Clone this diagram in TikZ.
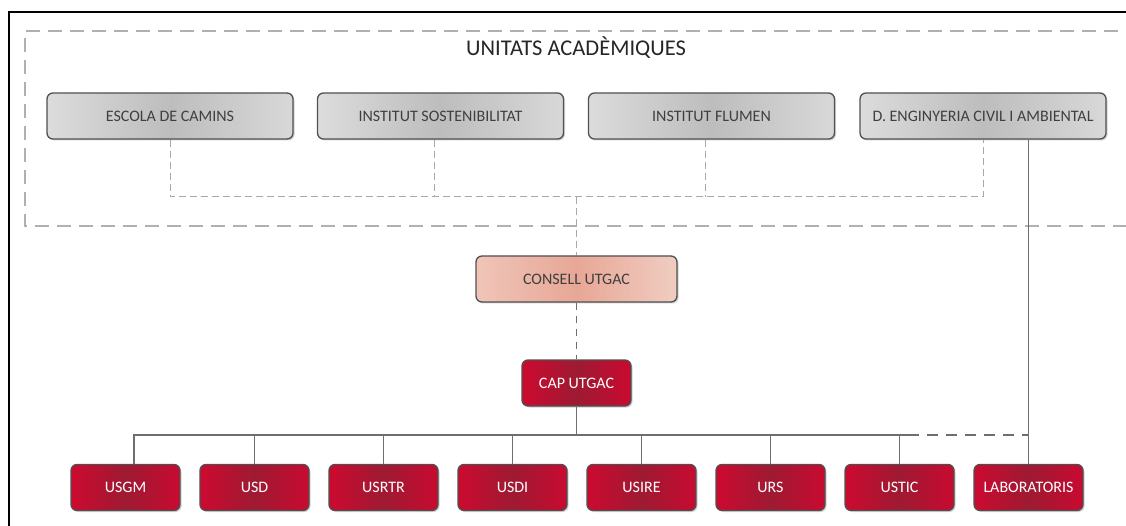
\documentclass[tikz,border=0pt]{standalone}
\usepackage{fontspec}
\setmainfont{Carlito}
\usetikzlibrary{shadows}
\definecolor{gL}{HTML}{DCDCDC}
\definecolor{gM}{HTML}{BDBDBD}
\definecolor{gR}{HTML}{D8D8D8}
\definecolor{rL}{HTML}{CC0A2F}
\definecolor{rM}{HTML}{9E1A33}
\definecolor{rR}{HTML}{C80A30}
\definecolor{cL}{HTML}{EFC5B8}
\definecolor{cM}{HTML}{E8A796}
\definecolor{cR}{HTML}{F0CDC2}
\definecolor{bord}{HTML}{505050}
\definecolor{txt}{HTML}{3F3F3F}
\definecolor{dbox}{HTML}{B0B0B0}
\definecolor{dln}{HTML}{A8A8A8}
\definecolor{sln}{HTML}{6E6E6E}
\begin{document}
\begin{tikzpicture}[x=1pt,y=-1pt,
  box/.style={draw=bord, line width=1.3pt, rounded corners=6pt, minimum height=46pt,
    inner sep=0pt, font=\fontsize{16}{18}\selectfont,
    drop shadow={shadow xshift=1.5pt, shadow yshift=-1.5pt, opacity=0.25, fill=black!70}},
  greybox/.style={box, minimum width=246pt, left color=gL, right color=gR, middle color=gM, text=txt},
  salmonbox/.style={box, minimum width=201pt, left color=cL, right color=cR, middle color=cM, text=txt},
  redbox/.style={box, minimum width=109pt, left color=rL, right color=rR, middle color=rM, text=white},
  dashbox/.style={draw=dbox, line width=1.5pt, dash pattern=on 14pt off 8pt},
  dconn/.style={draw=dln, line width=1pt, dash pattern=on 7pt off 4pt},
  dconntwo/.style={draw=sln, line width=1.2pt, dash pattern=on 7pt off 6pt},
  sconn/.style={draw=sln, line width=1.6pt},
  sdash/.style={draw=sln, line width=1.6pt, dash pattern=on 11pt off 8pt}]
\useasboundingbox (0,0) rectangle (1126,526);
\clip (0,0) rectangle (1126,526);
\fill[white] (0,0) rectangle (1126,526);
% outer frame
\draw[line width=2pt, black] (9,540) -- (9,12) -- (1140,12);
% dashed group frame
\draw[dashbox] (1140,31) -- (25,31) -- (25,226) -- (1140,226);
\node[font=\fontsize{22.5}{26}\selectfont, text=black!85] (title) at (576,48) {UNITATS ACADÈMIQUES};
% academic units
\node[greybox] (esc)  at (170,116)   {ESCOLA DE CAMINS};
\node[greybox] (ist)  at (440.5,116) {INSTITUT SOSTENIBILITAT};
\node[greybox] (ifl)  at (711.5,116) {INSTITUT FLUMEN};
\node[greybox] (deng) at (983,116)   {D. ENGINYERIA CIVIL I AMBIENTAL};
% council and head
\node[salmonbox] (consell) at (576.5,279) {CONSELL UTGAC};
\node[redbox] (cap) at (576.5,383) {CAP UTGAC};
% units
\node[redbox] (usgm)  at (125.5,487.5) {USGM};
\node[redbox] (usd)   at (254.5,487.5) {USD};
\node[redbox] (usrtr) at (383.5,487.5) {USRTR};
\node[redbox] (usdi)  at (512.5,487.5) {USDI};
\node[redbox] (usire) at (641.5,487.5) {USIRE};
\node[redbox] (urs)   at (770.5,487.5) {URS};
\node[redbox] (ustic) at (899.5,487.5) {USTIC};
\node[redbox] (lab)   at (1028.5,487.5) {LABORATORIS};
% dashed connectors of academic units
\coordinate (j) at (576.5,197);
\draw[dconn] (esc.south) -- (esc.south |- j) -- (j -| deng.south) -- (deng.south);
\draw[dconn] ([xshift=-6pt]ist.south) -- ([xshift=-6pt]ist.south |- j);
\draw[dconn] ([xshift=-6pt]ifl.south) -- ([xshift=-6pt]ifl.south |- j);
\draw[dconn] (j) -- (consell.north);
\draw[dconntwo] (consell.south) -- (cap.north);
% bus
\coordinate (b) at (576.5,435);
\coordinate (bd) at (908,435);
\draw[sconn] (cap.south) -- (b);
\draw[sconn] ([xshift=8.5pt]usgm.north) -- ([xshift=8.5pt]usgm.north |- b) -- (bd);
\draw[sdash] (bd) -- (lab.north |- b);
\foreach \n in {usd,usrtr,usdi,usire,urs,ustic}
  \draw[sconn] (\n.north) -- (\n.north |- b);
\draw[sconn] (deng.south -| lab.north) -- (lab.north);
\end{tikzpicture}
\end{document}
